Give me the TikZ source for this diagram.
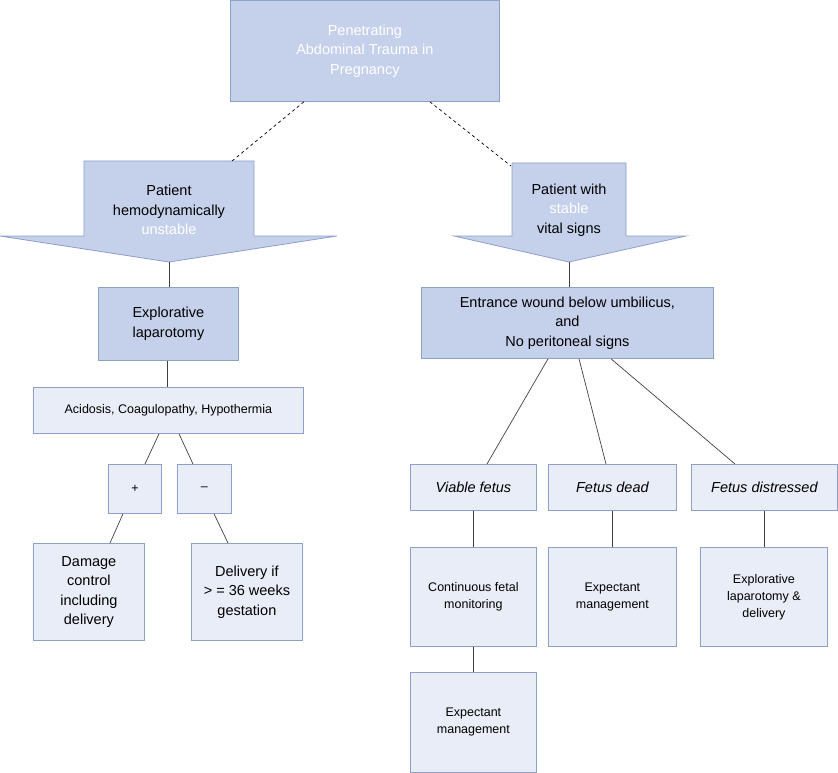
\documentclass[tikz,border=0pt]{standalone}
\usepackage{fontspec}
\setmainfont{Liberation Sans}
\usetikzlibrary{calc}
\definecolor{darkf}{HTML}{C5D1EB}
\definecolor{lightf}{HTML}{E9EDF8}
\definecolor{edge}{HTML}{8E9FC9}
\tikzset{
  dk/.style={draw=edge, fill=darkf, line width=0.8pt, anchor=north west, align=center, inner sep=1pt},
  lt/.style={draw=edge, fill=lightf, line width=0.8pt, anchor=north west, align=center, inner sep=1pt},
  conn/.style={draw=black!75, line width=0.7pt},
  smallf/.style={font=\fontsize{12.5}{17}\selectfont},
  itf/.style={font=\itshape\fontsize{14.5}{18}\selectfont}
}
\begin{document}
\begin{tikzpicture}[x=1pt,y=-1pt,font=\fontsize{14.5}{19.5}\selectfont]
\useasboundingbox (0,0) rectangle (838,773);
% top
\node[dk, minimum width=269, minimum height=101, text=white] (top) at (230,0) {Penetrating\\Abdominal Trauma in\\Pregnancy};
% left arrow
\draw[draw=edge, fill=darkf, line width=0.8pt] (84,161) -- (254,161) -- (254,236) -- (337,236) -- (169,262) coordinate (ltip) -- (0,236) -- (84,236) -- cycle;
\coordinate (ltop) at (232,161);
\node[align=center] (lt) at (169,210) {Patient\\hemodynamically\\\textcolor{white}{unstable}};
% right arrow
\draw[draw=edge, fill=darkf, line width=0.8pt] (512,163) -- (626,163) -- (626,236) -- (686,236) -- (569,262) coordinate (rtip) -- (454,236) -- (512,236) -- cycle;
\coordinate (rtop) at (511,166);
\node[align=center] (rt) at (569,210) {Patient with\\\textcolor{white}{stable}\\vital signs};
\draw[dashed, line width=0.7pt] ([xshift=-61pt]top.south) -- (ltop);
\draw[dashed, line width=0.7pt] ([xshift=65pt]top.south) -- (rtop);
% left branch
\node[dk, minimum width=140, minimum height=73] (expl) at (98,287) {Explorative\\laparotomy};
\node[lt, minimum width=270, minimum height=46, smallf] (acid) at (33,387) {Acidosis, Coagulopathy, Hypothermia};
\node[lt, minimum width=53, minimum height=49, smallf] (plus) at (108,464) {+};
\node[lt, minimum width=54, minimum height=49, smallf] (minus) at (177,464) {\textendash};
\node[lt, minimum width=111, minimum height=97] (dmg) at (33,543) {Damage\\control\\including\\delivery};
\node[lt, minimum width=111, minimum height=97] (dlv) at (191,543) {Delivery if\\> = 36 weeks\\gestation};
\draw[conn] (ltip) -- (ltip |- expl.north);
\draw[conn] (expl.south -| 167,0) -- (acid.north -| 167,0);
\draw[conn] (acid.south -| 159,0) -- (plus.north -| 145,0);
\draw[conn] (acid.south -| 179,0) -- (minus.north -| 193,0);
\draw[conn] (plus.south -| 123,0) -- (dmg.north -| 110,0);
\draw[conn] (minus.south -| 214,0) -- (dlv.north -| 228,0);
% right branch
\node[dk, minimum width=292, minimum height=71] (ent) at (421,287) {Entrance wound below umbilicus,\\and\\No peritoneal signs};
\draw[conn] (rtip) -- (rtip |- ent.north);
\node[lt, minimum width=126, minimum height=46, itf] (via) at (410,464) {Viable fetus};
\node[lt, minimum width=128, minimum height=46, itf] (dead) at (548,464) {Fetus dead};
\node[lt, minimum width=146, minimum height=46, itf] (dist) at (691,464) {Fetus distressed};
\node[lt, minimum width=126, minimum height=99, smallf] (cont) at (410,547) {Continuous fetal\\monitoring};
\node[lt, minimum width=128, minimum height=99, smallf] (exp1) at (548,547) {Expectant\\management};
\node[lt, minimum width=127, minimum height=99, smallf] (exl) at (700,547) {Explorative\\laparotomy \&\\delivery};
\node[lt, minimum width=126, minimum height=100, smallf] (exp2) at (410,672) {Expectant\\management};
\draw[conn] (ent.south -| 548,0) -- (via.north -| 487,0);
\draw[conn] (ent.south -| 579,0) -- (dead.north -| 606,0);
\draw[conn] (ent.south -| 611,0) -- (dist.north -| 735,0);
\draw[conn] (via.south -| 473,0) -- (cont.north -| 473,0);
\draw[conn] (dead.south -| 612,0) -- (exp1.north -| 612,0);
\draw[conn] (dist.south -| 764,0) -- (exl.north -| 764,0);
\draw[conn] (cont.south -| 473,0) -- (exp2.north -| 473,0);
\end{tikzpicture}
\end{document}
